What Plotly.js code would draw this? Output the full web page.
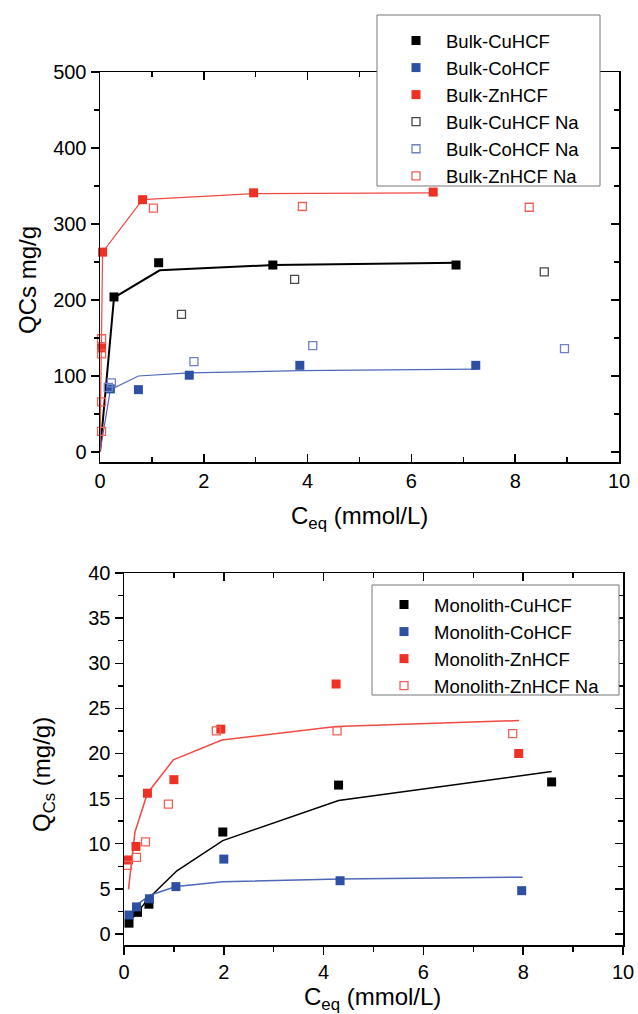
<!DOCTYPE html>
<html>
<head>
<meta charset="utf-8">
<script src="https://cdn.plot.ly/plotly-3.0.1.min.js"></script>
<style>html,body{margin:0;padding:0;background:#fff;}#chart{width:638px;height:1014px;}</style>
</head>
<body>
<div id="chart"></div>
<script>
// ---------- Top panel (Bulk) data ----------
const bulkCuX = [0.27, 1.13, 3.33, 6.86];
const bulkCuY = [204, 249, 246, 246];
const bulkCoX = [0.20, 0.74, 1.72, 3.85, 7.24];
const bulkCoY = [83, 82, 101, 114, 114];
const bulkZnX = [0.03, 0.05, 0.82, 2.96, 6.42];
const bulkZnY = [137, 263, 332, 341, 342];
const bulkCuNaX = [1.57, 3.75, 8.56];
const bulkCuNaY = [181, 227, 237];
const bulkCoNaX = [0.16, 0.22, 1.81, 4.10, 8.95];
const bulkCoNaY = [85, 91, 119, 140, 136];
const bulkZnNaX = [0.03, 0.03, 0.03, 0.03, 1.03, 3.90, 8.27];
const bulkZnNaY = [149, 129, 66, 27, 321, 323, 322];
// fitted curves (top)
const bulkCuFitX = [0, 0.27, 1.15, 3.35, 6.90];
const bulkCuFitY = [0, 203, 239, 246, 249];
const bulkCoFitX = [0, 0.20, 0.74, 1.72, 3.85, 7.24];
const bulkCoFitY = [0, 82, 100, 104, 107, 109];
const bulkZnFitX = [0, 0.03, 0.05, 0.82, 2.96, 6.42];
const bulkZnFitY = [0, 137, 263, 332, 340, 341];

// ---------- Bottom panel (Monolith) data ----------
const monoCuX = [0.10, 0.27, 0.50, 1.98, 4.30, 8.57];
const monoCuY = [1.2, 2.4, 3.3, 11.3, 16.5, 16.85];
const monoCoX = [0.10, 0.25, 0.51, 1.04, 2.00, 4.33, 7.97];
const monoCoY = [2.1, 3.0, 3.9, 5.25, 8.3, 5.9, 4.8];
const monoZnX = [0.09, 0.24, 0.47, 1.00, 1.94, 4.25, 7.91];
const monoZnY = [8.2, 9.7, 15.6, 17.1, 22.7, 27.7, 20.0];
const monoZnNaX = [0.07, 0.25, 0.43, 0.89, 1.85, 4.27, 7.79];
const monoZnNaY = [7.6, 8.5, 10.2, 14.4, 22.5, 22.5, 22.2];
// fitted curves (bottom)
const monoCuFitX = [0.05, 0.27, 0.50, 1.06, 1.98, 4.30, 8.57];
const monoCuFitY = [1.0, 2.4, 4.0, 7.0, 10.35, 14.8, 18.0];
const monoCoFitX = [0.10, 0.25, 0.52, 1.04, 1.98, 4.33, 7.99];
const monoCoFitY = [2.0, 3.2, 4.3, 5.25, 5.8, 6.1, 6.3];
const monoZnFitX = [0.09, 0.22, 0.47, 0.99, 1.96, 4.25, 7.92];
const monoZnFitY = [4.95, 11.3, 15.6, 19.3, 21.5, 23.0, 23.65];

const FONT = '"Liberation Sans", Arial, sans-serif';
const BLACK = '#000000', BLUE = '#2f4fa3', RED = '#ee3124';
const BLUE_LINE = '#4f68b8', RED_LINE = '#f04a45';
const BLACK_OPEN = '#4a4a4a', BLUE_OPEN = '#6f80c6', RED_OPEN = '#f0605a';
const MS = 9;
const W = 638, H = 1014;
const LEG_FS = 18.5;

function fit(x, y, color, width, xa, ya) {
  return {x: x, y: y, mode: 'lines', line: {color: color, width: width},
          showlegend: false, hoverinfo: 'skip', xaxis: xa, yaxis: ya, cliponaxis: false};
}
function pts(name, x, y, color, open, xa, ya, lg) {
  return {x: x, y: y, mode: 'markers', name: name, xaxis: xa, yaxis: ya, legend: lg, cliponaxis: false,
          marker: open ? {symbol: 'square-open', size: MS - 1, color: color, line: {color: color, width: 1.3}}
                       : {symbol: 'square', size: MS, color: color, line: {width: 0}}};
}

const traces = [
  fit(bulkCuFitX, bulkCuFitY, BLACK, 2, 'x', 'y'),
  fit(bulkCoFitX, bulkCoFitY, BLUE_LINE, 1.2, 'x', 'y'),
  fit(bulkZnFitX, bulkZnFitY, RED_LINE, 1.2, 'x', 'y'),
  pts('Bulk-CuHCF', bulkCuX, bulkCuY, BLACK, false, 'x', 'y', 'legend'),
  pts('Bulk-CoHCF', bulkCoX, bulkCoY, BLUE, false, 'x', 'y', 'legend'),
  pts('Bulk-ZnHCF', bulkZnX, bulkZnY, RED, false, 'x', 'y', 'legend'),
  pts('Bulk-CuHCF Na', bulkCuNaX, bulkCuNaY, BLACK_OPEN, true, 'x', 'y', 'legend'),
  pts('Bulk-CoHCF Na', bulkCoNaX, bulkCoNaY, BLUE_OPEN, true, 'x', 'y', 'legend'),
  pts('Bulk-ZnHCF Na', bulkZnNaX, bulkZnNaY, RED_OPEN, true, 'x', 'y', 'legend'),

  fit(monoCuFitX, monoCuFitY, BLACK, 1.5, 'x2', 'y2'),
  fit(monoCoFitX, monoCoFitY, BLUE_LINE, 1.5, 'x2', 'y2'),
  fit(monoZnFitX, monoZnFitY, RED_LINE, 1.5, 'x2', 'y2'),
  pts('Monolith-CuHCF', monoCuX, monoCuY, BLACK, false, 'x2', 'y2', 'legend2'),
  pts('Monolith-CoHCF', monoCoX, monoCoY, BLUE, false, 'x2', 'y2', 'legend2'),
  pts('Monolith-ZnHCF', monoZnX, monoZnY, RED, false, 'x2', 'y2', 'legend2'),
  pts('Monolith-ZnHCF Na', monoZnNaX, monoZnNaY, RED_OPEN, true, 'x2', 'y2', 'legend2'),

  // empty traces so the mirror (frame) axes are drawn
  {x: [], y: [], xaxis: 'x3', yaxis: 'y', showlegend: false},
  {x: [], y: [], xaxis: 'x', yaxis: 'y3', showlegend: false},
  {x: [], y: [], xaxis: 'x4', yaxis: 'y2', showlegend: false},
  {x: [], y: [], xaxis: 'x2', yaxis: 'y4', showlegend: false}
];

function ax(extra) {
  return Object.assign({
    showline: true, linecolor: '#000', linewidth: 1.5, mirror: false,
    showgrid: false, zeroline: false, ticks: 'outside', ticklen: 8, tickwidth: 1.5, tickcolor: '#000',
    tickfont: {family: FONT, size: 20, color: '#000'}, fixedrange: true
  }, extra);
}
function minor(dt, dir) {
  return {tick0: 0, dtick: dt, ticks: dir, ticklen: 5, tickwidth: 1.5, tickcolor: '#000'};
}

const TOP_X = [100 / W, 619 / W], TOP_Y = [1 - 462 / H, 1 - 72 / H];
const BOT_X = [124 / W, 623 / W], BOT_Y = [1 - 945 / H, 1 - 573 / H];
const TOP_YR = [-13.2, 500], BOT_YR = [-1.22, 40];

const layout = {
  width: W, height: H,
  margin: {l: 0, r: 0, t: 0, b: 0},
  paper_bgcolor: '#fff', plot_bgcolor: '#fff',
  font: {family: FONT, size: 20, color: '#000'},
  xaxis: ax({domain: TOP_X, anchor: 'y', range: [0, 10], tickmode: 'linear', tick0: 0, dtick: 2,
             ticks: 'inside', minor: minor(1, 'inside')}),
  yaxis: ax({domain: TOP_Y, anchor: 'x', range: TOP_YR, tickmode: 'linear', tick0: 0, dtick: 100,
             minor: minor(50, 'outside')}),
  xaxis3: ax({overlaying: 'x', side: 'top', anchor: 'y', range: [0, 10], tickmode: 'linear', tick0: 0, dtick: 2,
              ticks: 'inside', showticklabels: false, minor: minor(1, 'inside')}),
  yaxis3: ax({overlaying: 'y', side: 'right', anchor: 'x', range: TOP_YR, tickmode: 'linear', tick0: 0, dtick: 100,
              ticks: 'inside', showticklabels: false, minor: minor(50, 'inside')}),

  xaxis2: ax({domain: BOT_X, anchor: 'y2', range: [0, 10], tickmode: 'linear', tick0: 0, dtick: 2,
              minor: minor(1, 'outside')}),
  yaxis2: ax({domain: BOT_Y, anchor: 'x2', range: BOT_YR, tickmode: 'linear', tick0: 0, dtick: 5,
              minor: minor(2.5, 'outside')}),
  xaxis4: ax({overlaying: 'x2', side: 'top', anchor: 'y2', range: [0, 10], tickmode: 'linear', tick0: 0, dtick: 2,
              ticks: 'inside', showticklabels: false, minor: minor(1, 'inside')}),
  yaxis4: ax({overlaying: 'y2', side: 'right', anchor: 'x2', range: BOT_YR, tickmode: 'linear', tick0: 0, dtick: 5,
              ticks: 'inside', showticklabels: false, minor: minor(2.5, 'inside')}),

  legend: {x: 386 / W, y: 1 - 22 / H, xanchor: 'left', yanchor: 'top', bgcolor: 'rgba(0,0,0,0)',
           borderwidth: 0, itemwidth: 50,
           font: {family: FONT, size: LEG_FS, color: '#000'}, tracegroupgap: 0},
  legend2: {x: 374 / W, y: 1 - 586 / H, xanchor: 'left', yanchor: 'top', bgcolor: 'rgba(0,0,0,0)',
            borderwidth: 0, itemwidth: 50,
            font: {family: FONT, size: LEG_FS, color: '#000'}, tracegroupgap: 0},

  shapes: [
    {type: 'rect', xref: 'paper', yref: 'paper', layer: 'above',
     x0: 377 / W, x1: 600 / W, y0: 1 - 186 / H, y1: 1 - 15 / H,
     fillcolor: '#fff', line: {color: '#777', width: 1}},
    {type: 'rect', xref: 'paper', yref: 'paper', layer: 'above',
     x0: 372 / W, x1: 619 / W, y0: 1 - 695 / H, y1: 1 - 585 / H,
     fillcolor: '#fff', line: {color: '#777', width: 1}}
  ],

  annotations: [
    {text: 'QCs mg/g', xref: 'paper', yref: 'paper', x: 27 / W, y: 1 - 280 / H,
     xanchor: 'center', yanchor: 'middle', textangle: -90, showarrow: false,
     font: {family: FONT, size: 24, color: '#000'}},
    {text: 'C<sub>eq</sub> (mmol/L)', xref: 'paper', yref: 'paper', x: 360 / W, y: 1 - 500 / H,
     xanchor: 'center', yanchor: 'top', showarrow: false,
     font: {family: FONT, size: 24, color: '#000'}},
    {text: 'Q<sub>Cs</sub> (mg/g)', xref: 'paper', yref: 'paper', x: 43 / W, y: 1 - 775 / H,
     xanchor: 'center', yanchor: 'middle', textangle: -90, showarrow: false,
     font: {family: FONT, size: 24, color: '#000'}},
    {text: 'C<sub>eq</sub> (mmol/L)', xref: 'paper', yref: 'paper', x: 372 / W, y: 1 - 981 / H,
     xanchor: 'center', yanchor: 'top', showarrow: false,
     font: {family: FONT, size: 24, color: '#000'}}
  ]
};

Plotly.newPlot('chart', traces, layout, {displayModeBar: false, staticPlot: true});
</script>
</body>
</html>
